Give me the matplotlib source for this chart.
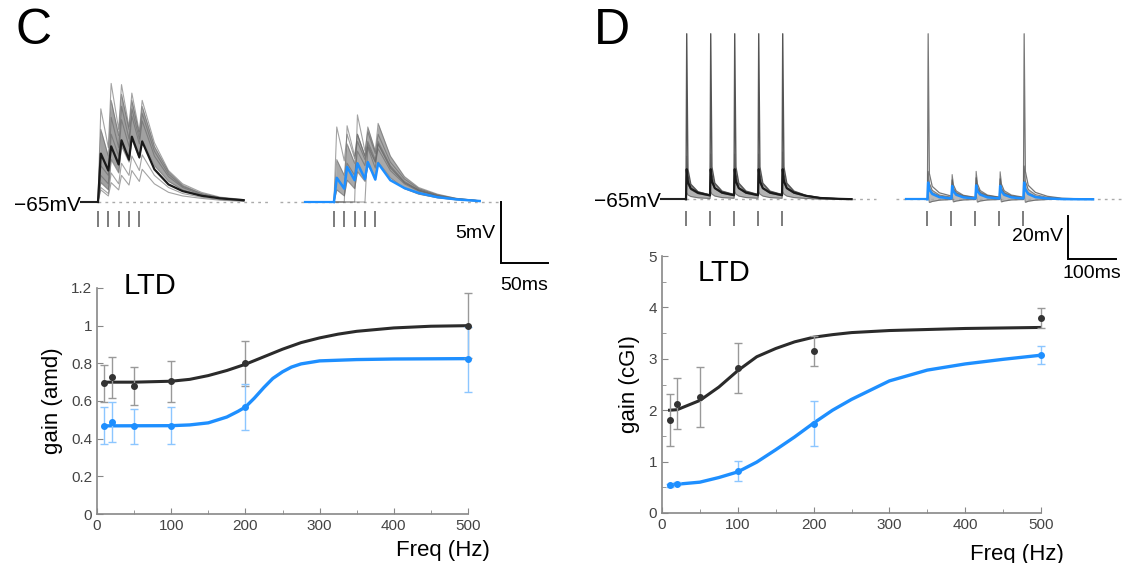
import matplotlib
matplotlib.use("Agg")
import matplotlib.pyplot as plt
from matplotlib.ticker import MultipleLocator, FuncFormatter

plt.rcParams["font.family"] = ["Liberation Sans", "DejaVu Sans"]

W, H = 1128, 563
BLUE = "#1E8FFF"
LBLUE = "#8cc6ff"

# ---------------- data: panel C traces (ms, mV above -65 mV) ----------------
t_C = [0, 3, 11, 14, 22, 25, 33, 36, 44, 47, 60, 75, 90, 110, 130, 155]
stim_C = [0, 11, 22, 33, 44]

mean_CL = [0, 4.0, 2.6, 4.6, 3.1, 5.1, 3.5, 5.4, 3.7, 5.0, 2.7, 1.45, 0.9, 0.52, 0.3, 0.15]
grey_CL = [
    [0, 7.7, 4.5, 9.8, 6.0, 9.7, 6.2, 9.0, 5.8, 8.4, 4.9, 2.6, 1.5, 0.8, 0.4, 0.2],
    [0, 6.0, 3.8, 8.4, 5.5, 8.9, 6.0, 8.4, 5.6, 7.9, 4.6, 2.5, 1.4, 0.7, 0.35, 0.15],
    [0, 3.0, 2.2, 7.0, 4.5, 7.9, 5.2, 7.7, 5.2, 7.3, 4.2, 2.3, 1.3, 0.7, 0.35, 0.15],
    [0, 2.2, 1.5, 5.6, 3.8, 6.8, 4.6, 7.1, 4.8, 6.7, 3.8, 2.1, 1.2, 0.6, 0.3, 0.15],
    [0, 1.6, 1.0, 3.5, 2.4, 4.6, 3.3, 5.2, 3.6, 5.1, 3.0, 1.7, 1.0, 0.5, 0.3, 0.1],
    [0, 1.2, 0.7, 2.4, 1.5, 3.2, 2.2, 3.8, 2.6, 3.9, 2.2, 1.2, 0.7, 0.4, 0.2, 0.1],
    [0, 1.0, 0.5, 1.6, 1.0, 2.2, 1.4, 2.6, 1.7, 2.7, 1.5, 0.8, 0.5, 0.3, 0.15, 0.05],
]

mean_CR = [0, 2.0, 1.1, 2.9, 1.8, 3.2, 1.9, 3.3, 1.85, 3.2, 1.8, 1.15, 0.75, 0.4, 0.22, 0.08]
grey_CR = [
    [0, 6.2, 3.4, 5.6, 3.6, 5.0, 3.5, 4.6, 3.3, 4.4, 2.6, 1.5, 0.9, 0.5, 0.25, 0.1],
    [0, 0, 0, 6.3, 3.8, 5.6, 3.8, 5.0, 3.5, 4.8, 2.8, 1.6, 1.0, 0.5, 0.25, 0.1],
    [0, 0, 0, 0, 0, 7.2, 4.2, 5.8, 4.0, 5.6, 3.3, 1.9, 1.1, 0.6, 0.3, 0.1],
    [0, 3.5, 2.2, 4.8, 3.2, 5.6, 3.8, 6.2, 4.2, 6.5, 3.8, 2.1, 1.2, 0.65, 0.3, 0.1],
    [0, 2.0, 1.2, 3.2, 2.2, 4.2, 3.0, 4.8, 3.3, 5.0, 3.0, 1.7, 1.0, 0.55, 0.28, 0.1],
    [0, 1.0, 0.5, 1.8, 1.1, 2.5, 1.7, 3.0, 2.1, 3.3, 2.0, 1.1, 0.65, 0.35, 0.18, 0.06],
    [0, 0, 0, 0, 0, 0, 0, 4.5, 2.8, 4.8, 2.9, 1.6, 0.95, 0.5, 0.25, 0.1],
]

# ---------------- data: panel D traces ----------------
t_D = [0, 1.5, 4, 10, 25, 50, 51.5, 54, 60, 75, 100, 101.5, 104, 110, 125,
       150, 151.5, 154, 160, 175, 200, 201.5, 204, 210, 225, 250, 280, 320, 345]
stim_D = [0, 50, 100, 150, 200]

spike_DL = [0, 77, 14, 7, 3.5, 2.0, 77, 15, 7.5, 3.8, 2.2, 77, 15, 7.5, 3.8,
            2.2, 77, 15, 7.5, 3.8, 2.2, 77, 15, 7.5, 3.8, 1.8, 0.7, 0.25, 0.1]
hi_DL = [0, 20, 11, 6.5, 3.4, 2.1, 21, 11.5, 7, 3.6, 2.2, 21, 11.5, 7, 3.6,
         2.2, 21, 11.5, 7, 3.6, 2.2, 22, 11.5, 7, 3.6, 1.8, 0.7, 0.25, 0.1]
mid_DL = [0, 10, 7, 4.5, 2.6, 1.6, 11, 7.5, 5, 2.8, 1.7, 11, 7.5, 5, 2.8,
          1.7, 11, 7.5, 5, 2.8, 1.7, 11, 7.5, 5, 2.8, 1.4, 0.5, 0.15, 0.05]
lo_DL = [0, 3, 2, 1.3, 0.7, 0.4, 3.5, 2.4, 1.5, 0.8, 0.5, 3.5, 2.4, 1.5, 0.8,
         0.5, 3.5, 2.4, 1.5, 0.8, 0.5, 3.5, 2.4, 1.5, 0.8, 0.4, 0.1, 0.05, 0]
mean_DL = [0, 14, 8, 5, 3, 1.8, 14, 8.5, 5.2, 3.1, 1.9, 14, 8.5, 5.2, 3.1,
           1.9, 14, 8.5, 5.2, 3.1, 1.9, 14, 8.5, 5.2, 3.1, 1.6, 0.6, 0.2, 0.05]

spike_DR = [0, 77, 12, 6, 3, 1.5, 9, 5, 3, 1.6, 0.8, 10, 5.5, 3.2, 1.7,
            0.9, 9.5, 5.2, 3.0, 1.6, 0.8, 77, 13, 6.5, 3.2, 1.4, 0.5, 0.2, 0.05]
hi_DR = [0, 13, 7.5, 4.2, 2, 1.0, 11.5, 6.8, 3.9, 1.9, 0.9, 13, 7.3, 4.1, 2,
         1.0, 12.8, 7.2, 4.0, 2, 1.0, 15.5, 8.5, 4.6, 2.2, 0.9, 0.35, 0.1, 0.03]
mid_DR = [0, 8, 5, 3, 1.5, 0.7, 6.5, 4.2, 2.5, 1.2, 0.6, 7.2, 4.6, 2.7, 1.3,
          0.6, 7.0, 4.5, 2.6, 1.3, 0.6, 8.5, 5.2, 3, 1.4, 0.6, 0.2, 0.05, 0]
lo_DR = [0, 2.5, -1.5, -1.0, -0.4, -0.1, 2.0, -1.2, -0.8, -0.3, -0.1, 2.2, -1.3, -0.8, -0.3,
         -0.1, 2.1, -1.2, -0.8, -0.3, -0.1, 2.6, -1.4, -0.9, -0.4, -0.1, 0, 0, 0]
mean_DR = [0, 7.8, 4.5, 2.5, 1.0, 0.4, 6.2, 3.7, 2.1, 0.9, 0.4, 6.5, 3.8, 2.2, 0.9,
           0.4, 6.3, 3.7, 2.1, 0.9, 0.4, 7.8, 4.5, 2.5, 1.0, 0.4, 0.1, 0.02, 0]

# ---------------- data: gain vs frequency ----------------
freq = [10, 20, 50, 100, 200, 500]
C_black = [0.693, 0.725, 0.68, 0.705, 0.80, 1.0]
C_black_err = [0.10, 0.11, 0.10, 0.108, 0.118, 0.174]
C_blue = [0.468, 0.49, 0.467, 0.468, 0.569, 0.822]
C_blue_err = [0.098, 0.106, 0.093, 0.098, 0.122, 0.173]

C_fit_x_black = [10, 50, 100, 125, 150, 175, 200, 225, 250, 275, 300, 325, 350, 400, 450, 500]
C_fit_black = [0.70, 0.70, 0.705, 0.715, 0.735, 0.762, 0.795, 0.835, 0.875, 0.91, 0.935,
               0.955, 0.97, 0.988, 0.997, 1.0]
C_fit_x_blue = [10, 100, 125, 150, 175, 190, 200, 212, 225, 237, 250, 262, 275, 300, 350, 400, 500]
C_fit_blue = [0.468, 0.469, 0.473, 0.484, 0.515, 0.545, 0.568, 0.615, 0.672, 0.72, 0.755,
              0.78, 0.797, 0.813, 0.82, 0.823, 0.825]

D_black = [1.805, 2.13, 2.26, 2.82, 3.15, 3.80]
D_black_err = [0.51, 0.50, 0.59, 0.48, 0.29, 0.195]
freq_D_blue = [10, 20, 100, 200, 500]
D_blue = [0.54, 0.57, 0.82, 1.74, 3.07]
D_blue_err = [0.03, 0.03, 0.195, 0.44, 0.175]

D_fit_x = [10, 20, 50, 75, 100, 125, 150, 175, 200, 225, 250, 300, 350, 400, 450, 500]
D_fit_black = [2.0, 2.01, 2.19, 2.45, 2.77, 3.04, 3.2, 3.33, 3.42, 3.47, 3.51, 3.55, 3.57,
               3.59, 3.60, 3.61]
D_fit_blue = [0.54, 0.56, 0.60, 0.69, 0.80, 0.99, 1.23, 1.48, 1.75, 2.0, 2.21, 2.57, 2.78,
              2.9, 2.99, 3.07]


def px_axes(fig, x0, y0, x1, y1):
    return fig.add_axes([x0 / W, 1 - y1 / H, (x1 - x0) / W, (y1 - y0) / H])


fig = plt.figure(figsize=(W / 100, H / 100), dpi=100)

# ---------------- panel C traces ----------------
axC = px_axes(fig, 0, 40, 564, 300)
axC.set_xlim((0 - 98) / 0.94, (564 - 98) / 0.94)
axC.set_ylim((202 - 300) / 12.1, (202 - 40) / 12.1)
axC.axis("off")
offC = 251  # onset of right group, ms

axC.plot([0, 181], [0, 0], ls=(0, (2, 3)), color="#aaaaaa", lw=1)
axC.plot([194, 428], [0, 0], ls=(0, (2, 3)), color="#aaaaaa", lw=1)
axC.plot([-18, 0], [0, 0], color="#222222", lw=1.5)

axC.fill_between(t_C, grey_CL[4], grey_CL[1], color="#555555", alpha=0.55, lw=0)
for tr in grey_CL:
    axC.plot(t_C, tr, color="#666666", lw=0.8, alpha=0.6)
axC.plot(t_C, mean_CL, color="#1a1a1a", lw=1.6)

tCR = [t + offC for t in t_C]
axC.fill_between(tCR, grey_CR[5], grey_CR[3], color="#555555", alpha=0.5, lw=0)
for tr in grey_CR:
    axC.plot(tCR, tr, color="#666666", lw=0.8, alpha=0.6)
axC.plot([offC - 31, offC], [0, 0], color=BLUE, lw=1.6)
axC.plot(tCR, mean_CR, color=BLUE, lw=1.8)

axC.vlines(stim_C, -2.07, -0.74, color="#666666", lw=1.2)
axC.vlines([s + offC for s in stim_C], -2.07, -0.74, color="#666666", lw=1.2)

# scale bar 5 mV / 50 ms
axC.plot([428.4, 428.4, 478.4], [0, -5, -5], color="black", lw=1.4, solid_joinstyle="miter")
axC.text(423, -2.6, "5mV", ha="right", va="center", fontsize=14)
axC.text(453, -6.2, "50ms", ha="center", va="top", fontsize=14)
axC.text(-18, -0.25, "\u221265mV", ha="right", va="center", fontsize=15)

# ---------------- panel D traces ----------------
axD = px_axes(fig, 564, 20, 1128, 300)
axD.set_xlim((564 - 686) / 0.48, (1128 - 686) / 0.48)
axD.set_ylim((199.3 - 300) / 2.15, (199.3 - 20) / 2.15)
axD.axis("off")
offD = 503

axD.plot([0, 396], [0, 0], ls=(0, (2, 3)), color="#aaaaaa", lw=1)
axD.plot([437, 915], [0, 0], ls=(0, (2, 3)), color="#aaaaaa", lw=1)
axD.plot([-52, 0], [0, 0], color="#222222", lw=1.5)

axD.plot(t_D, spike_DL, color="#555555", lw=1.0)
axD.fill_between(t_D, lo_DL, hi_DL, color="#555555", alpha=0.45, lw=0)
for tr in (hi_DL, mid_DL, lo_DL):
    axD.plot(t_D, tr, color="#555555", lw=0.8, alpha=0.7)
axD.plot(t_D, mean_DL, color="#1a1a1a", lw=1.6)

tDR = [t + offD for t in t_D]
axD.plot(tDR, spike_DR, color="#777777", lw=0.9)
axD.fill_between(tDR, lo_DR, hi_DR, color="#555555", alpha=0.4, lw=0)
for tr in (hi_DR, mid_DR, lo_DR):
    axD.plot(tDR, tr, color="#555555", lw=0.8, alpha=0.7)
axD.plot([offD - 44, offD], [0, 0], color=BLUE, lw=1.6)
axD.plot(tDR, mean_DR, color=BLUE, lw=1.8)

axD.vlines(stim_D, -12.4, -5.3, color="#666666", lw=1.2)
axD.vlines([s + offD for s in stim_D], -12.4, -5.3, color="#666666", lw=1.2)

axD.plot([796.5, 796.5, 896.5], [-7.8, -27.8, -27.8], color="black", lw=1.4, solid_joinstyle="miter")
axD.text(786, -17.5, "20mV", ha="right", va="center", fontsize=14)
axD.text(846, -30.5, "100ms", ha="center", va="top", fontsize=14)
axD.text(-52, -1.2, "\u221265mV", ha="right", va="center", fontsize=15)

# ---------------- gain plots ----------------
def style_gain(ax, ymax, ymaj, ymin_step, ylabel):
    ax.set_xlim(0, 500)
    ax.set_ylim(0, ymax)
    for s in ("top", "right"):
        ax.spines[s].set_visible(False)
    for s in ("left", "bottom"):
        ax.spines[s].set_color("#888888")
        ax.spines[s].set_linewidth(1.2)
    ax.xaxis.set_major_locator(MultipleLocator(100))
    ax.xaxis.set_minor_locator(MultipleLocator(50))
    ax.yaxis.set_major_locator(MultipleLocator(ymaj))
    ax.yaxis.set_minor_locator(MultipleLocator(ymin_step))
    ax.yaxis.set_major_formatter(FuncFormatter(lambda v, p: "%g" % round(v, 2)))
    ax.tick_params(which="both", direction="in", color="#888888", labelcolor="#444444",
                   labelsize=11)
    ax.tick_params(which="major", length=4)
    ax.tick_params(which="minor", length=3)
    ax.set_ylabel(ylabel, fontsize=16, labelpad=6)
    ax.text(1.06, -0.16, "Freq (Hz)", transform=ax.transAxes, ha="right", va="center",
            fontsize=16)


axGC = px_axes(fig, 97, 288, 468, 514)
style_gain(axGC, 1.2, 0.2, 0.2, "gain (amd)")
axGC.plot(C_fit_x_black, C_fit_black, color="#2b2b2b", lw=2.2, zorder=3)
axGC.plot(C_fit_x_blue, C_fit_blue, color=BLUE, lw=2.4, zorder=3)
axGC.errorbar(freq, C_black, yerr=C_black_err, fmt="o", ms=4, color="#333333",
              ecolor="#999999", elinewidth=1, capsize=3, clip_on=False, zorder=4)
axGC.errorbar(freq, C_blue, yerr=C_blue_err, fmt="o", ms=4, color=BLUE,
              ecolor=LBLUE, elinewidth=1, capsize=3, clip_on=False, zorder=4)
axGC.text(0.072, 1.008, "LTD", transform=axGC.transAxes, ha="left", va="center", fontsize=21)

axGD = px_axes(fig, 662, 256, 1041, 513)
style_gain(axGD, 5, 1, 0.5, "gain (cGI)")
axGD.plot(D_fit_x, D_fit_black, color="#2b2b2b", lw=2.2, zorder=3)
axGD.plot(D_fit_x, D_fit_blue, color=BLUE, lw=2.4, zorder=3)
axGD.errorbar(freq, D_black, yerr=D_black_err, fmt="o", ms=4, color="#333333",
              ecolor="#999999", elinewidth=1, capsize=3, clip_on=False, zorder=4)
axGD.errorbar(freq_D_blue, D_blue, yerr=D_blue_err, fmt="o", ms=4, color=BLUE,
              ecolor=LBLUE, elinewidth=1, capsize=3, clip_on=False, zorder=4)
axGD.text(0.095, 0.935, "LTD", transform=axGD.transAxes, ha="left", va="center", fontsize=21)

fig.text(15 / W, 1 - 31 / H, "C", fontsize=36, ha="left", va="center")
fig.text(594 / W, 1 - 31 / H, "D", fontsize=36, ha="left", va="center")

plt.savefig("out.png", dpi=100)
